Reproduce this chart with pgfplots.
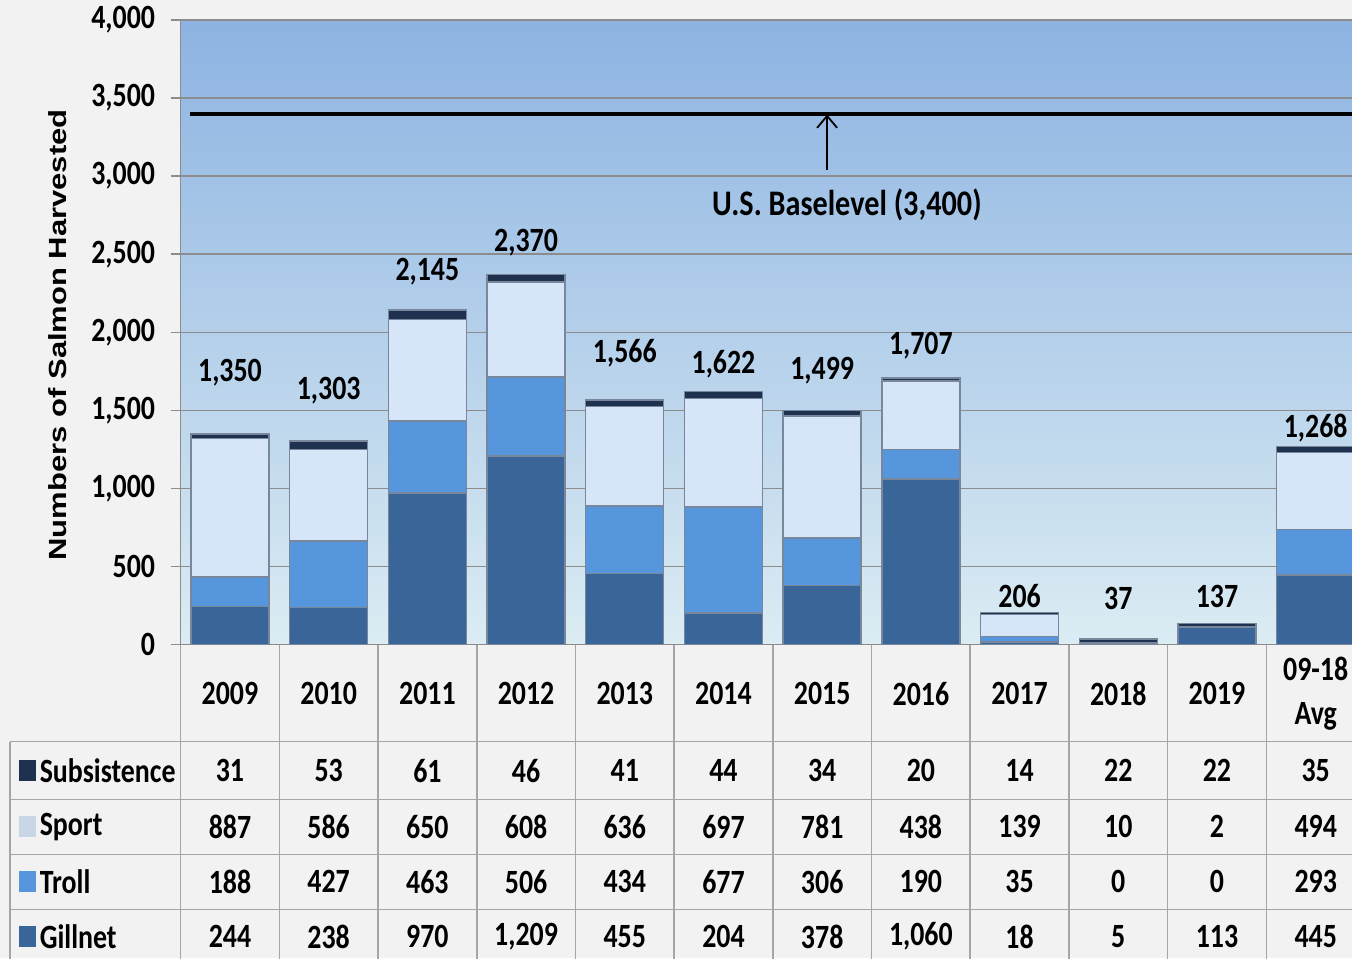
\documentclass[border=0pt]{standalone}
\usepackage{pgfplots}
\pgfplotsset{compat=1.18}
\usepackage{pgfplotstable}
\usepackage{fontspec}
\setmainfont{Carlito}
\newfontfamily\labfont{Liberation Sans}
\usetikzlibrary{backgrounds,arrows.meta}

\definecolor{bgc}{RGB}{242,242,242}
\definecolor{gridc}{RGB}{140,140,140}
\definecolor{tabc}{RGB}{165,165,165}
\definecolor{edgec}{RGB}{120,135,155}
\definecolor{gill}{RGB}{58,101,153}
\definecolor{troll}{RGB}{86,150,220}
\definecolor{sport}{RGB}{214,229,248}
\definecolor{subs}{RGB}{30,50,80}

% harvest by gear; laby = height of the total label
\pgfplotstableread{
i gill troll sport subs total laby
0 244 188 887 31 1350 1741
1 238 427 586 53 1303 1626
2 970 463 650 61 2145 2387
3 1209 506 608 46 2370 2573
4 455 434 636 41 1566 1869
5 204 677 697 44 1622 1798
6 378 306 781 34 1499 1754
7 1060 190 438 20 1707 1914
8 18 35 139 14 206 314
9 5 0 10 22 37 294
10 113 0 2 22 137 307
11 445 293 494 35 1268 1389
}\harvest

\newcommand{\tf}{\bfseries\fontsize{17}{22}\selectfont}

\begin{document}
\begin{tikzpicture}
\pgfplotsset{
  common/.style={
    scale only axis, width=586pt, height=312.5pt,
    xmin=-0.5, xmax=11.368, ymin=0, ymax=4000,
    /pgf/number format/assume math mode=true,
  },
}
\begin{axis}[
  common,
  ybar stacked,
  bar width=0.79,
  axis background/.style={top color={rgb,255:red,141;green,179;blue,226},
                          bottom color={rgb,255:red,219;green,236;blue,243}},
  axis x line*=bottom, axis y line*=left,
  axis line style={draw=gridc, line width=0.8pt},
  ytick={0,500,...,4000},
  ymajorgrids,
  grid style={draw=gridc, line width=0.8pt},
  major tick length=5pt, tick align=outside,
  ytick style={draw=gridc, line width=0.8pt},
  xtick={0,...,11},
  xtick style={draw=none},
  xticklabels={2009,2010,2011,2012,2013,2014,2015,2016,2017,2018,2019,{09-18\\Avg}},
  yticklabel style={font=\tf, xscale=0.82, xshift=-6pt},
  xticklabel style={font=\tf, xscale=0.82, align=center, anchor=center, yshift=-19.5pt},
]
\addplot[fill=gill, draw=edgec, line width=0.7pt] table[x=i, y=gill] {\harvest};
\addplot[fill=troll, draw=edgec, line width=0.7pt] table[x=i, y=troll] {\harvest};
\addplot[fill=sport, draw=edgec, line width=0.7pt] table[x=i, y=sport] {\harvest};
\addplot[fill=subs, draw=edgec, line width=0.7pt] table[x=i, y=subs] {\harvest};
\end{axis}

\begin{axis}[
  common, hide axis, clip=false,
  every node near coord/.append style={anchor=center, font=\tf, xscale=0.82, text=black},
]
\coordinate (bl) at (axis cs:-2.330,-2009.6);
\coordinate (tr) at (axis cs:11.368,4128);
% U.S. base level
\addplot[black, line width=2pt] coordinates {(-0.4,3400) (11.368,3400)};
\draw[-{Straight Barb[length=6pt,width=10pt]}, line width=0.9pt] (axis cs:6.05,3040) -- (axis cs:6.05,3395);
\node[font=\bfseries\fontsize{18}{22}\selectfont, xscale=0.84] at (axis cs:6.25,2816) {U.S. Baselevel (3,400)};
% totals
\addplot[draw=none, mark=none, nodes near coords, point meta=explicit] table[x=i, y=laby, meta=total] {\harvest};
% y label
\node[font=\labfont\bfseries\fontsize{15.5}{18}\selectfont, xscale=0.8, rotate=90] at (axis cs:-1.746,1984) {Numbers of Salmon Harvested};
% data table grid
\pgfplotsinvokeforeach{-0.5,0.5,1.5,2.5,3.5,4.5,5.5,6.5,7.5,8.5,9.5,10.5}{
  \draw[tabc, line width=0.8pt] (axis cs:#1,0) -- (axis cs:#1,-2010);
}
\draw[tabc, line width=0.8pt] (axis cs:-2.229,-621) -- (axis cs:-2.229,-2010);
\pgfplotsinvokeforeach{-621,-992,-1344,-1696}{
  \draw[tabc, line width=0.8pt] (axis cs:-2.229,#1) -- (axis cs:11.368,#1);
}
% row labels with keys
\fill[subs] (axis cs:-2.137,-873) rectangle (axis cs:-1.965,-739);
\fill[sport!85!gray] (axis cs:-2.137,-1232) rectangle (axis cs:-1.965,-1098);
\fill[troll] (axis cs:-2.137,-1584) rectangle (axis cs:-1.965,-1450);
\fill[gill] (axis cs:-2.137,-1936) rectangle (axis cs:-1.965,-1802);
\node[font=\tf, xscale=0.82, anchor=west, inner sep=0pt] at (axis cs:-1.93,-806) {Subsistence};
\node[font=\tf, xscale=0.82, anchor=west, inner sep=0pt] at (axis cs:-1.93,-1165) {Sport};
\node[font=\tf, xscale=0.82, anchor=west, inner sep=0pt] at (axis cs:-1.93,-1517) {Troll};
\node[font=\tf, xscale=0.82, anchor=west, inner sep=0pt] at (axis cs:-1.93,-1869) {Gillnet};
% table values
\addplot[draw=none, mark=none, nodes near coords, point meta=explicit] table[x=i, y expr=-806, meta=subs] {\harvest};
\addplot[draw=none, mark=none, nodes near coords, point meta=explicit] table[x=i, y expr=-1165, meta=sport] {\harvest};
\addplot[draw=none, mark=none, nodes near coords, point meta=explicit] table[x=i, y expr=-1517, meta=troll] {\harvest};
\addplot[draw=none, mark=none, nodes near coords, point meta=explicit] table[x=i, y expr=-1869, meta=gill] {\harvest};
\end{axis}

\begin{scope}[on background layer]
\fill[bgc] (bl) rectangle (tr);
\end{scope}
\pgfresetboundingbox
\path[use as bounding box] (bl) rectangle (tr);
\end{tikzpicture}
\end{document}
